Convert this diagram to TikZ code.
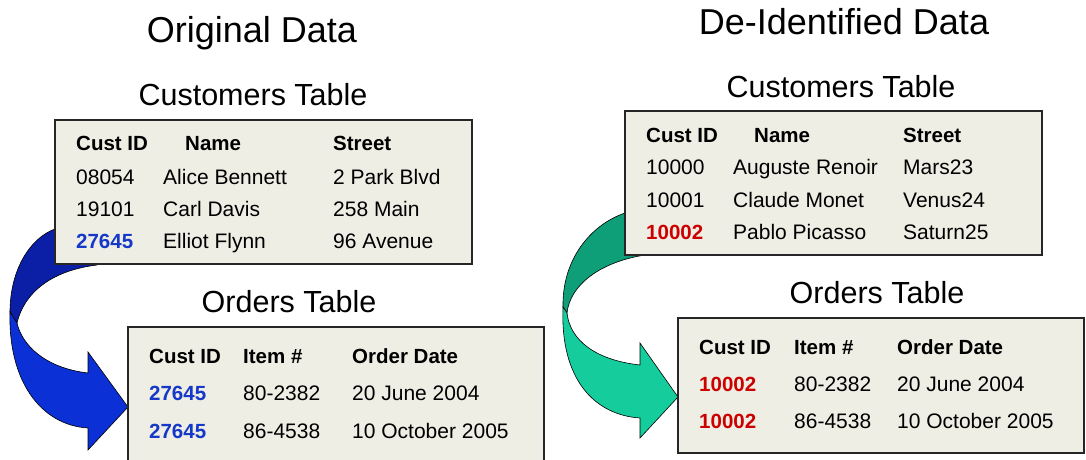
\documentclass[tikz,border=0pt]{standalone}
\usepackage{fontspec}
\setmainfont{Liberation Sans}
\usepackage{tikz}
\definecolor{boxfill}{HTML}{EEEEE4}
\definecolor{idblue}{HTML}{1538C8}
\definecolor{idred}{HTML}{CC0000}
\definecolor{bluedark}{HTML}{0A1EA6}
\definecolor{bluelight}{HTML}{0A30D6}
\definecolor{tealdark}{HTML}{0E9E78}
\definecolor{teallight}{HTML}{14CC9C}

\begin{document}
\begin{tikzpicture}[x=1pt, y=-1pt,
  tablebox/.style = {draw=black!85, line width=1.4pt, fill=boxfill, inner sep=0pt},
  ribbon/.style = {draw=black, line width=0.6pt},
  title/.style = {font=\fontsize{36}{40}\selectfont},
  caption/.style = {font=\fontsize{30.5}{34}\selectfont},
  cell/.style = {anchor=base west, inner sep=0pt, font=\fontsize{21}{24}\selectfont},
  hdr/.style = {cell, font=\fontsize{20.5}{24}\selectfont\bfseries},
  blueid/.style = {hdr, text=idblue},
  redid/.style = {hdr, text=idred}]
  \useasboundingbox (0,0) rectangle (1086,459);
  \fill[white] (0,0) rectangle (1086,459);

  % left ribbon arrow
  \filldraw[ribbon, fill=bluedark] (100,262) -- (97,265)
    .. controls (55,270) and (25,290) .. (17,323) -- (10,312)
    .. controls (10,270) and (30,238) .. (55,229) -- (100,229) -- cycle;
  \filldraw[ribbon, fill=bluelight] (10,312) .. controls (8,380) and (40,425) .. (88,428)
    -- (88,450) -- (128,407) -- (88,352) -- (88,373)
    .. controls (45,368) and (22,345) .. (17,323) -- cycle;

  % right ribbon arrow
  \filldraw[ribbon, fill=tealdark] (660,213) -- (625,213)
    .. controls (590,225) and (562,260) .. (563,307) -- (567,313)
    .. controls (570,285) and (600,262) .. (645,255) -- (660,240) -- cycle;
  \filldraw[ribbon, fill=teallight] (563,307) .. controls (560,380) and (595,415) .. (640,418)
    -- (640,438) -- (678,397) -- (640,343) -- (640,365)
    .. controls (595,360) and (570,340) .. (567,313) -- cycle;

  % titles
  \node[title] (origT) at (252,33) {Original Data};
  \node[title] (deidT) at (844,22) {De-Identified Data};

  % original customers
  \node[caption] (custLcap) at (253,95) {Customers Table};
  \node[tablebox, minimum width=417pt, minimum height=144pt] (custL) at (263.5,192) {};
  \node[hdr] (cLh1) at (76,150) {Cust ID};
  \node[hdr] (cLh2) at (185,150) {Name};
  \node[hdr] (cLh3) at (333,150) {Street};
  \node[cell] (cLa1) at (76,184) {08054};
  \node[cell] (cLa2) at (163,184) {Alice Bennett};
  \node[cell] (cLa3) at (333,184) {2 Park Blvd};
  \node[cell] (cLb1) at (76,216) {19101};
  \node[cell] (cLb2) at (163,216) {Carl Davis};
  \node[cell] (cLb3) at (333,216) {258 Main};
  \node[blueid] (cLc1) at (76,248) {27645};
  \node[cell] (cLc2) at (163,248) {Elliot Flynn};
  \node[cell] (cLc3) at (333,248) {96 Avenue};

  % original orders
  \node[caption] (ordLcap) at (289,302) {Orders Table};
  \node[tablebox, minimum width=416pt, minimum height=145pt] (ordL) at (336,399.5) {};
  \node[hdr] (oLh1) at (149,363) {Cust ID};
  \node[hdr] (oLh2) at (243,363) {Item \#};
  \node[hdr] (oLh3) at (352,363) {Order Date};
  \node[blueid] (oLa1) at (149,400) {27645};
  \node[cell] (oLa2) at (243,400) {80-2382};
  \node[cell] (oLa3) at (352,400) {20 June 2004};
  \node[blueid] (oLb1) at (149,438) {27645};
  \node[cell] (oLb2) at (243,438) {86-4538};
  \node[cell] (oLb3) at (352,438) {10 October 2005};

  % de-identified customers
  \node[caption] (custRcap) at (841,87) {Customers Table};
  \node[tablebox, minimum width=417pt, minimum height=144pt] (custR) at (833.5,183) {};
  \node[hdr] (cRh1) at (646,142) {Cust ID};
  \node[hdr] (cRh2) at (754,142) {Name};
  \node[hdr] (cRh3) at (903,142) {Street};
  \node[cell] (cRa1) at (646,174) {10000};
  \node[cell] (cRa2) at (733,174) {Auguste Renoir};
  \node[cell] (cRa3) at (903,174) {Mars23};
  \node[cell] (cRb1) at (646,207) {10001};
  \node[cell] (cRb2) at (733,207) {Claude Monet};
  \node[cell] (cRb3) at (903,207) {Venus24};
  \node[redid] (cRc1) at (646,239) {10002};
  \node[cell] (cRc2) at (733,239) {Pablo Picasso};
  \node[cell] (cRc3) at (903,239) {Saturn25};

  % de-identified orders
  \node[caption] (ordRcap) at (877,293) {Orders Table};
  \node[tablebox, minimum width=406pt, minimum height=135pt] (ordR) at (881,385.5) {};
  \node[hdr] (oRh1) at (699,354) {Cust ID};
  \node[hdr] (oRh2) at (794,354) {Item \#};
  \node[hdr] (oRh3) at (897,354) {Order Date};
  \node[redid] (oRa1) at (699,391) {10002};
  \node[cell] (oRa2) at (794,391) {80-2382};
  \node[cell] (oRa3) at (897,391) {20 June 2004};
  \node[redid] (oRb1) at (699,428) {10002};
  \node[cell] (oRb2) at (794,428) {86-4538};
  \node[cell] (oRb3) at (897,428) {10 October 2005};
\end{tikzpicture}
\end{document}
